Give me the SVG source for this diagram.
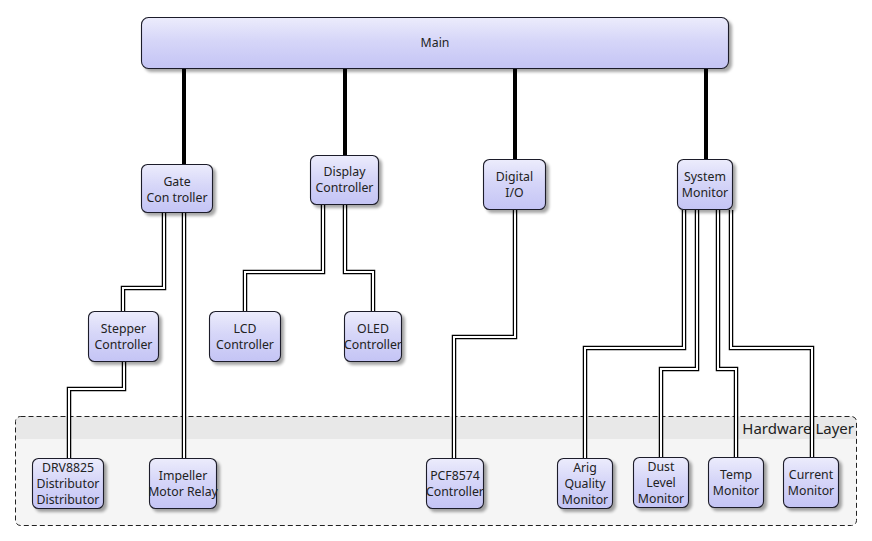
<svg xmlns="http://www.w3.org/2000/svg" width="872" height="541" viewBox="0 0 872 541">
<defs>
<linearGradient id="g" x1="0" y1="0" x2="0" y2="1">
<stop offset="0" stop-color="#ececfc"/>
<stop offset="0.45" stop-color="#d6d6f8"/>
<stop offset="1" stop-color="#c4c4f5"/>
</linearGradient>
<filter id="sh" x="-20%" y="-20%" width="150%" height="150%">
<feGaussianBlur in="SourceAlpha" stdDeviation="1.6"/>
<feOffset dx="2.5" dy="2.5" result="b"/>
<feComponentTransfer><feFuncA type="linear" slope="0.35"/></feComponentTransfer>
<feMerge><feMergeNode/><feMergeNode in="SourceGraphic"/></feMerge>
</filter>
</defs>
<style>
.n{fill:url(#g);stroke:#1e1e2a;stroke-width:1.1;filter:url(#sh)}
.t{font-family:"Noto Sans","Open Sans",sans-serif;font-size:12.3px;fill:#222;text-anchor:middle}
.thick{stroke:#000;stroke-width:4;fill:none}
.o{stroke:#000;stroke-width:4.5;fill:none;stroke-linejoin:miter}
.i{stroke:#fff;stroke-width:2;fill:none;stroke-linejoin:miter}
</style>
<rect width="872" height="541" fill="#fff"/>
<g id="hardware-layer">
<rect x="15.5" y="416.5" width="841" height="109" rx="5" fill="#f5f5f5"/>
<path d="M15.5 439 V421.5 a5 5 0 0 1 5 -5 H851.5 a5 5 0 0 1 5 5 V439 Z" fill="#e8e8e8"/>
<rect x="15.5" y="416.5" width="841" height="109" rx="5" fill="none" stroke="#222" stroke-width="1" stroke-dasharray="5,3"/>
<text x="854" y="434" font-family="'Noto Sans','Open Sans',sans-serif" font-size="15" fill="#222" text-anchor="end">Hardware Layer</text>
</g>
<g id="connectors">
<path class="thick" d="M184 68V164M345 68V155M515 68V159M706 68V159"/>
<path class="o" d="M164 213V288H123V311M184 213V458M323 205V272H245V311M345 205V272H373V311M124 362V389H69V458M515 210V337H454V458M684 210V348H585V458M697 210V369H661V457M718 210V369H736V457M731 210V348H812V457"/>
<path class="i" d="M164 213V288H123V311M184 213V458M323 205V272H245V311M345 205V272H373V311M124 362V389H69V458M515 210V337H454V458M684 210V348H585V458M697 210V369H661V457M718 210V369H736V457M731 210V348H812V457"/>
</g>
<g id="main"><rect class="n" x="141.5" y="17.5" width="587" height="51" rx="7"/><text class="t" x="435" y="47">Main</text></g>
<g id="gate-controller"><rect class="n" x="141.5" y="164.5" width="71" height="48" rx="6"/><text class="t" x="177" y="186">Gate</text><text class="t" x="177" y="202">Con troller</text></g>
<g id="display-controller"><rect class="n" x="310.5" y="155.5" width="68" height="49" rx="6"/><text class="t" x="344.5" y="176">Display</text><text class="t" x="344.5" y="192">Controller</text></g>
<g id="digital-io"><rect class="n" x="483.5" y="159.5" width="62" height="50" rx="6"/><text class="t" x="514.5" y="181">Digital</text><text class="t" x="514.5" y="197">I/O</text></g>
<g id="system-monitor"><rect class="n" x="677.5" y="159.5" width="55" height="50" rx="6"/><text class="t" x="705" y="181">System</text><text class="t" x="705" y="197">Monitor</text></g>
<g id="stepper-controller"><rect class="n" x="88.5" y="311.5" width="70" height="50" rx="6"/><text class="t" x="123.5" y="333">Stepper</text><text class="t" x="123.5" y="349">Controller</text></g>
<g id="lcd-controller"><rect class="n" x="209.5" y="311.5" width="71" height="50" rx="6"/><text class="t" x="245" y="333">LCD</text><text class="t" x="245" y="349">Controller</text></g>
<g id="oled-controller"><rect class="n" x="344.5" y="311.5" width="57" height="50" rx="6"/><text class="t" x="373" y="333">OLED</text><text class="t" x="373" y="349">Controller</text></g>
<g id="drv8825"><rect class="n" x="32.5" y="458.5" width="71" height="50" rx="6"/><text class="t" x="68" y="472">DRV8825</text><text class="t" x="68" y="488">Distributor</text><text class="t" x="68" y="504">Distributor</text></g>
<g id="impeller-motor-relay"><rect class="n" x="149.5" y="458.5" width="67" height="50" rx="6"/><text class="t" x="183" y="480">Impeller</text><text class="t" x="183" y="496">Motor Relay</text></g>
<g id="pcf8574-controller"><rect class="n" x="426.5" y="458.5" width="57" height="50" rx="6"/><text class="t" x="455" y="480">PCF8574</text><text class="t" x="455" y="496">Controller</text></g>
<g id="air-quality-monitor"><rect class="n" x="557.5" y="458.5" width="55" height="50" rx="6"/><text class="t" x="585" y="472">Arig</text><text class="t" x="585" y="488">Quality</text><text class="t" x="585" y="504">Monitor</text></g>
<g id="dust-level-monitor"><rect class="n" x="633.5" y="457.5" width="55" height="50" rx="6"/><text class="t" x="661" y="471">Dust</text><text class="t" x="661" y="487">Level</text><text class="t" x="661" y="503">Monitor</text></g>
<g id="temp-monitor"><rect class="n" x="708.5" y="457.5" width="55" height="50" rx="6"/><text class="t" x="736" y="479">Temp</text><text class="t" x="736" y="495">Monitor</text></g>
<g id="current-monitor"><rect class="n" x="783.5" y="457.5" width="55" height="50" rx="6"/><text class="t" x="811" y="479">Current</text><text class="t" x="811" y="495">Monitor</text></g>
</svg>
